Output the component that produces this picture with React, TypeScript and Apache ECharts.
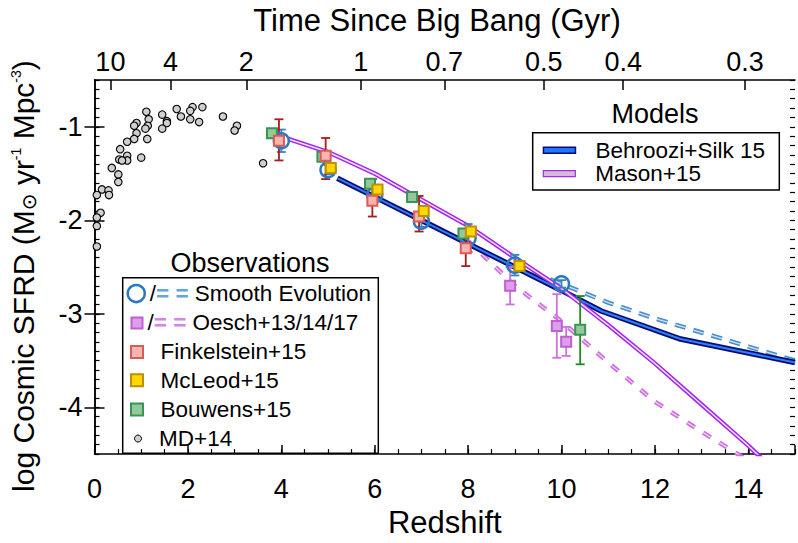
import React, { useEffect, useRef } from 'react';
import * as echarts from 'echarts';

const FONT = '"Liberation Sans", Arial, Helvetica, sans-serif';

// ---- data (redshift z, log SFRD) ----
const mdZ = [1.11, 1.45, 1.76, 2.10, 2.31, 2.05, 1.85, 2.05, 2.24, 2.75, 3.05, 3.00, 3.61, 1.16, 1.14, 1.09, 1.55, 1.55, 1.45, 0.90, 0.85, 0.90, 0.85, 1.13, 0.70, 0.55, 0.53, 0.70, 0.70, 0.59, 1.00, 0.37, 0.51, 0.51, 0.16, 0.30, 0.31, 0.05, 0.13, 0.05, 0.05, 0.05];
const mdV = [-0.84, -0.87, -0.81, -0.79, -0.79, -0.83, -0.89, -0.92, -0.95, -0.89, -0.99, -1.04, -1.39, -0.92, -0.99, -1.02, -0.94, -0.96, -1.02, -0.96, -0.99, -1.07, -1.13, -1.13, -1.16, -1.24, -1.35, -1.31, -1.36, -1.36, -1.33, -1.44, -1.51, -1.59, -1.67, -1.68, -1.73, -1.73, -1.92, -1.97, -2.06, -2.28];

const smoothZ = [4, 5, 6, 7, 8, 9, 10];
const smoothV = [-1.15, -1.46, -1.73, -2.01, -2.19, -2.48, -2.68];
const smoothErr = [0.12, 0.05, 0.06, 0.06, 0.15, 0.11, 0.04];

const oeschZ = [8.9, 9.9, 10.1];
const oeschV = [-2.70, -3.13, -3.30];
const oeschLo = [-2.90, -3.47, -3.45];
const oeschHi = [-2.50, -2.79, -3.14];

const finkZ = [3.95, 4.95, 5.95, 6.95, 7.95];
const finkV = [-1.15, -1.31, -1.79, -1.96, -2.30];
const finkLo = [-1.36, -1.56, -1.96, -2.12, -2.49];
const finkHi = [-0.92, -1.12, -1.56, -1.74, -2.11];

const mcleodZ = [5.06, 6.06, 7.05, 8.06, 9.1];
const mcleodV = [-1.44, -1.67, -1.90, -2.12, -2.49];

const bouwensZ = [3.8, 4.88, 5.9, 6.8, 7.9, 10.4];
const bouwensV = [-1.07, -1.32, -1.61, -1.75, -2.14, -3.17];
const bouwensErrZ = [10.4];
const bouwensLo = [-3.54];
const bouwensHi = [-2.81];

// models
const behrooziZ = [5.2, 6, 7, 8, 9, 10, 10.85, 12.55, 15];
const behrooziV = [-1.55, -1.75, -2.00, -2.25, -2.50, -2.75, -2.97, -3.27, -3.52];
const masonZ = [4.15, 5, 6, 7, 8, 9, 10, 11, 12, 13, 14, 14.4];
const masonV = [-1.13, -1.27, -1.50, -1.78, -2.06, -2.40, -2.73, -3.12, -3.53, -3.97, -4.41, -4.60];
const oeschModelZ = [8, 9, 10, 11, 12, 13, 14];
const oeschModelV = [-2.22, -2.70, -3.08, -3.52, -3.94, -4.26, -4.57];
const smoothModelZ = [9, 10, 11, 12, 13, 14, 15];
const smoothModelV = [-2.48, -2.68, -2.88, -3.05, -3.20, -3.35, -3.50];

// axes
const topTickZ = [0.34, 1.63, 3.25, 5.7, 7.49, 9.62, 11.32, 13.93];
const topTickLabels = ['10', '4', '2', '1', '0.7', '0.5', '0.4', '0.3'];
const yMajorTicks = [-4, -3, -2, -1];

const pairs = (xs: number[], ys: number[]) => xs.map((x, i) => [x, ys[i]]);

function errRender(color: string, capHalf: number, width: number) {
  return (_params: any, api: any) => {
    const x = api.value(0);
    const pLo = api.coord([x, api.value(1)]);
    const pHi = api.coord([x, api.value(2)]);
    const style = { stroke: color, lineWidth: width };
    return {
      type: 'group',
      children: [
        { type: 'line', shape: { x1: pLo[0], y1: pLo[1], x2: pHi[0], y2: pHi[1] }, style },
        { type: 'line', shape: { x1: pLo[0] - capHalf, y1: pLo[1], x2: pLo[0] + capHalf, y2: pLo[1] }, style },
        { type: 'line', shape: { x1: pHi[0] - capHalf, y1: pHi[1], x2: pHi[0] + capHalf, y2: pHi[1] }, style },
      ],
    };
  };
}

const black = '#000';
const LFS = 22.5;

function rowLegend(name: string, left: number, centerY: number, w: number, h: number, icon: string, itemStyle: any, formatter: string, rich: any = {}) {
  return {
    data: [{ name, icon, itemStyle }],
    left,
    top: centerY - LFS / 2,
    padding: 0,
    itemWidth: w,
    itemHeight: h,
    selectedMode: false,
    formatter: () => formatter,
    textStyle: {
      fontSize: LFS,
      fontFamily: FONT,
      color: black,
      rich: Object.assign({ sp: { width: 12.5, fontSize: LFS, fontFamily: FONT } }, rich),
    },
  };
}

export default function App() {
  const ref = useRef<HTMLDivElement>(null);

  useEffect(() => {
    if (!ref.current) return;
    const chart = echarts.init(ref.current, undefined, { renderer: 'svg' });

    const lineBase = { type: 'line', symbol: 'none', showSymbol: false, silent: true, clip: true, smooth: false, xAxisIndex: 0, yAxisIndex: 0 };

    const option: any = {
      animation: false,
      backgroundColor: '#fff',
      textStyle: { fontFamily: FONT },
      grid: { left: 94.5, top: 80, width: 706.5, height: 389.3, show: false },
      xAxis: [
        {
          type: 'value', position: 'bottom', min: 0, max: 15, interval: 2,
          axisLine: { show: true, lineStyle: { color: black, width: 1.5 } },
          axisTick: { show: true, inside: true, length: 9, lineStyle: { color: black, width: 1.5 } },
          axisLabel: { fontSize: 27, color: black, fontFamily: FONT, margin: 21, formatter: (v: number) => (v < 15 ? String(v) : '') },
          splitLine: { show: false },
          name: 'Redshift', nameLocation: 'middle', nameGap: 45,
          nameTextStyle: { fontSize: 31, color: black, fontFamily: FONT },
        },
        {
          type: 'value', position: 'bottom', min: 0, max: 15, interval: 0.5,
          axisLine: { show: false },
          axisTick: { show: true, inside: true, length: 5, lineStyle: { color: black, width: 1.2 } },
          axisLabel: { show: false }, splitLine: { show: false },
        },
        {
          type: 'value', position: 'top', min: 0, max: 15,
          axisLine: { show: true, lineStyle: { color: black, width: 1.5 } },
          axisTick: { show: true, inside: true, length: 10, customValues: topTickZ, lineStyle: { color: black, width: 1.5 } },
          axisLabel: {
            show: true, customValues: topTickZ, fontSize: 27, color: black, fontFamily: FONT, margin: 5,
            formatter: (v: number) => {
              const i = topTickZ.findIndex((t) => Math.abs(t - v) < 1e-6);
              return i >= 0 ? topTickLabels[i] : '';
            },
          },
          splitLine: { show: false },
        },
      ],
      yAxis: [
        {
          type: 'value', position: 'left', min: -4.5, max: -0.5,
          axisLine: { show: true, lineStyle: { color: black, width: 1.5 } },
          axisTick: { show: true, inside: true, length: 10, customValues: yMajorTicks, lineStyle: { color: black, width: 1.5 } },
          axisLabel: { show: true, customValues: yMajorTicks, fontSize: 27, color: black, fontFamily: FONT, margin: 12, formatter: (v: number) => String(v) },
          splitLine: { show: false },
          name: '{n|log Cosmic SFRD (M}{sub|⊙}{n| yr}{sup|-1}{n| Mpc}{sup|-3}{n|)}',
          nameLocation: 'middle', nameRotate: 90, nameGap: 56,
          nameTextStyle: {
            fontSize: 30, color: black, fontFamily: FONT,
            padding: [0, 18, 0, 0],
            rich: {
              n: { fontSize: 30, fontFamily: FONT, color: black },
              sub: { fontSize: 20, fontFamily: '"DejaVu Sans", sans-serif', color: black, verticalAlign: 'bottom' },
              sup: { fontSize: 14, fontFamily: FONT, color: black, verticalAlign: 'top' },
            },
          },
        },
        {
          type: 'value', position: 'left', min: -4.5, max: -0.5, interval: 0.1,
          axisLine: { show: false },
          axisTick: { show: true, inside: true, length: 5, lineStyle: { color: black, width: 1.2 } },
          axisLabel: { show: false }, splitLine: { show: false },
        },
        {
          type: 'value', position: 'right', min: -4.5, max: -0.5,
          axisLine: { show: true, lineStyle: { color: black, width: 1.5 } },
          axisTick: { show: true, inside: true, length: 10, customValues: yMajorTicks, lineStyle: { color: black, width: 1.5 } },
          axisLabel: { show: false }, splitLine: { show: false },
        },
        {
          type: 'value', position: 'right', min: -4.5, max: -0.5, interval: 0.1,
          axisLine: { show: false },
          axisTick: { show: true, inside: true, length: 5, lineStyle: { color: black, width: 1.2 } },
          axisLabel: { show: false }, splitLine: { show: false },
        },
      ],
      legend: [
        {
          data: [{ name: 'Behroozi+Silk 15', icon: 'rect', itemStyle: { color: '#1e78ff', borderColor: '#0a0a70', borderWidth: 1.5 } }],
          left: 542.7, top: 150 - LFS / 2, padding: 0, itemWidth: 32, itemHeight: 6, selectedMode: false,
          formatter: () => '{g|}Behroozi+Silk 15',
          textStyle: { fontSize: LFS, fontFamily: FONT, color: black, rich: { g: { width: 15, fontSize: LFS } } },
        },
        {
          data: [{ name: 'Mason+15', icon: 'rect', itemStyle: { color: '#d8b8dc', borderColor: '#9b30e0', borderWidth: 1.2 } }],
          left: 542.7, top: 173.3 - LFS / 2, padding: 0, itemWidth: 32, itemHeight: 6, selectedMode: false,
          formatter: () => '{g|}Mason+15',
          textStyle: { fontSize: LFS, fontFamily: FONT, color: black, rich: { g: { width: 15, fontSize: LFS } } },
        },
        rowLegend('Smooth Evolution', 126.5, 293.3, 17, 17, 'circle',
          { color: 'rgba(255,255,255,0)', borderColor: '#2a78c2', borderWidth: 2.5 },
          '{s|/}{d|= =} Smooth Evolution',
          { s: { fontSize: LFS, fontFamily: FONT, color: black }, d: { fontSize: LFS, fontFamily: FONT, color: '#62a6dc', fontWeight: 'bold' } }),
        rowLegend('Oesch+13/14/17', 130.5, 322.7, 11, 11, 'rect',
          { color: '#dca0e8', borderColor: '#c05ed6', borderWidth: 2 },
          '{s|/}{d|= =} Oesch+13/14/17',
          { s: { fontSize: LFS, fontFamily: FONT, color: black }, d: { fontSize: LFS, fontFamily: FONT, color: '#d487e2', fontWeight: 'bold' } }),
        rowLegend('Finkelstein+15', 130, 351.7, 12, 12, 'rect',
          { color: '#f6b6ae', borderColor: '#dd5a5a', borderWidth: 2 }, '{sp|}Finkelstein+15'),
        rowLegend('McLeod+15', 130, 380, 12, 12, 'rect',
          { color: '#ffd800', borderColor: '#c08e00', borderWidth: 2 }, '{sp|}McLeod+15'),
        rowLegend('Bouwens+15', 130, 409.3, 12, 12, 'rect',
          { color: '#92c89a', borderColor: '#389455', borderWidth: 2 }, '{sp|}Bouwens+15'),
        rowLegend('MD+14', 134, 438.3, 7, 7, 'circle',
          { color: '#d0d0d0', borderColor: '#000', borderWidth: 1 }, '{sp|}MD+14'),
      ],
      graphic: [
        { type: 'rect', shape: { x: 122.7, y: 277.7, width: 255.6, height: 175.6 }, style: { fill: 'rgba(0,0,0,0)', stroke: black, lineWidth: 1.5 }, z: 1, silent: true },
        { type: 'rect', shape: { x: 532.7, y: 132.7, width: 246.6, height: 57.3 }, style: { fill: 'rgba(0,0,0,0)', stroke: black, lineWidth: 1.5 }, z: 1, silent: true },
        { type: 'text', x: 250, y: 263, style: { text: 'Observations', fontSize: 27, fontFamily: FONT, fill: black, align: 'center', verticalAlign: 'middle', textAlign: 'center', textVerticalAlign: 'middle' }, silent: true },
        { type: 'text', x: 655, y: 114, style: { text: 'Models', fontSize: 27, fontFamily: FONT, fill: black, align: 'center', verticalAlign: 'middle', textAlign: 'center', textVerticalAlign: 'middle' }, silent: true },
        { type: 'text', x: 437, y: 20, style: { text: 'Time Since Big Bang (Gyr)', fontSize: 31, fontFamily: FONT, fill: black, align: 'center', verticalAlign: 'middle', textAlign: 'center', textVerticalAlign: 'middle' }, silent: true },
      ],
      series: [
        // smooth evolution extrapolation (dashed, double)
        { ...lineBase, name: 'Smooth model', data: pairs(smoothModelZ, smoothModelV), lineStyle: { color: '#4a8ccc', width: 4.5, type: [11, 8] }, z: 2 },
        { ...lineBase, name: 'Smooth model', data: pairs(smoothModelZ, smoothModelV), lineStyle: { color: '#cfe4f6', width: 1.3, type: [11, 8] }, z: 2 },
        // Oesch extrapolation
        { ...lineBase, name: 'Oesch model', data: pairs(oeschModelZ, oeschModelV), lineStyle: { color: '#cc6ade', width: 4.5, type: [9, 10] }, z: 2 },
        { ...lineBase, name: 'Oesch model', data: pairs(oeschModelZ, oeschModelV), lineStyle: { color: '#eecdf4', width: 1.3, type: [9, 10] }, z: 2 },
        // Behroozi
        { ...lineBase, name: 'Behroozi+Silk 15', data: pairs(behrooziZ, behrooziV), lineStyle: { color: '#0a0a6e', width: 5.5 }, itemStyle: { color: '#1e78ff' }, z: 2 },
        { ...lineBase, name: 'Behroozi+Silk 15', data: pairs(behrooziZ, behrooziV), lineStyle: { color: '#2a7fff', width: 2 }, itemStyle: { color: '#1e78ff' }, z: 2 },
        // Mason
        { ...lineBase, name: 'Mason+15', data: pairs(masonZ, masonV), lineStyle: { color: '#a024ee', width: 4.5 }, itemStyle: { color: '#d8b8dc' }, z: 2 },
        { ...lineBase, name: 'Mason+15', data: pairs(masonZ, masonV), lineStyle: { color: '#f3e0f8', width: 1.5 }, itemStyle: { color: '#d8b8dc' }, z: 2 },
        // MD+14
        {
          type: 'scatter', name: 'MD+14', data: pairs(mdZ, mdV), symbol: 'circle', symbolSize: 7.5,
          itemStyle: { color: '#cfcfcf', borderColor: '#000', borderWidth: 1.1, opacity: 1 }, z: 3, silent: true,
        },
        // error bars
        {
          type: 'custom', name: 'Smooth err', data: smoothZ.map((z, i) => [z, smoothV[i] - smoothErr[i], smoothV[i] + smoothErr[i]]),
          encode: { x: 0, y: [1, 2] }, renderItem: errRender('#3a80c6', 4.5, 1.8), z: 3, silent: true,
        },
        {
          type: 'custom', name: 'Oesch err', data: oeschZ.map((z, i) => [z, oeschLo[i], oeschHi[i]]),
          encode: { x: 0, y: [1, 2] }, renderItem: errRender('#cf6fe0', 4.5, 1.8), z: 3, silent: true,
        },
        {
          type: 'custom', name: 'Bouwens err', data: bouwensErrZ.map((z, i) => [z, bouwensLo[i], bouwensHi[i]]),
          encode: { x: 0, y: [1, 2] }, renderItem: errRender('#1a8c1a', 4.5, 1.8), z: 3, silent: true,
        },
        // circles
        {
          type: 'scatter', name: 'Smooth Evolution', data: pairs(smoothZ, smoothV), symbol: 'circle', symbolSize: 15,
          itemStyle: { color: 'rgba(255,255,255,0)', borderColor: '#2a78c2', borderWidth: 2.5, opacity: 1 }, z: 4, silent: true,
        },
        {
          type: 'custom', name: 'Fink err', data: finkZ.map((z, i) => [z, finkLo[i], finkHi[i]]),
          encode: { x: 0, y: [1, 2] }, renderItem: errRender('#a81c1c', 4.5, 1.8), z: 4, silent: true,
        },
        // squares
        {
          type: 'scatter', name: 'Bouwens+15', data: pairs(bouwensZ, bouwensV), symbol: 'rect', symbolSize: 10,
          itemStyle: { color: '#92c89a', borderColor: '#389455', borderWidth: 2, opacity: 1 }, z: 5, silent: true,
        },
        {
          type: 'scatter', name: 'Finkelstein+15', data: pairs(finkZ, finkV), symbol: 'rect', symbolSize: 10,
          itemStyle: { color: '#f6b6ae', borderColor: '#dd5a5a', borderWidth: 2, opacity: 1 }, z: 5, silent: true,
        },
        {
          type: 'scatter', name: 'McLeod+15', data: pairs(mcleodZ, mcleodV), symbol: 'rect', symbolSize: 10,
          itemStyle: { color: '#ffd800', borderColor: '#c08e00', borderWidth: 2, opacity: 1 }, z: 5, silent: true,
        },
        {
          type: 'scatter', name: 'Oesch+13/14/17', data: pairs(oeschZ, oeschV), symbol: 'rect', symbolSize: 10,
          itemStyle: { color: '#dca0e8', borderColor: '#c05ed6', borderWidth: 2, opacity: 1 }, z: 5, silent: true,
        },
      ],
    };

    chart.setOption(option);
    return () => chart.dispose();
  }, []);

  return <div ref={ref} style={{ position: 'absolute', left: 0, top: 0, width: 798, height: 543 }} />;
}
